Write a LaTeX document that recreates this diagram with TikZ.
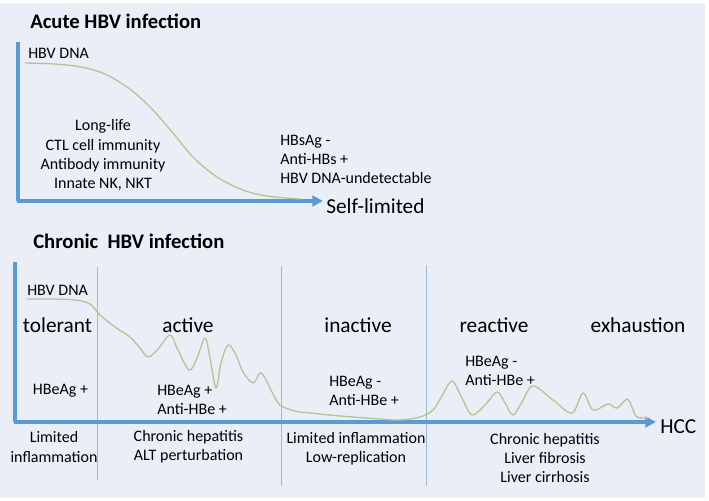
\documentclass[tikz,border=0pt]{standalone}
\usepackage{fontspec}
\setmainfont{Carlito}
\usetikzlibrary{arrows.meta}
\definecolor{bgc}{RGB}{234,239,247}
\definecolor{axisblue}{RGB}{91,155,213}
\definecolor{thinblue}{RGB}{156,186,224}
\definecolor{curvec}{RGB}{178,198,150}
\tikzset{
  axisline/.style={draw=axisblue, line width=2.3pt, -{Triangle[length=8pt,width=8pt]}},
  axisplain/.style={draw=axisblue, line width=2.3pt},
  divider/.style={draw=thinblue, line width=0.6pt},
  dna/.style={draw=curvec, line width=1pt, line join=round},
  ttl/.style={font=\fontsize{15.5}{18}\selectfont\bfseries, inner sep=0pt},
  big/.style={font=\fontsize{16}{19}\selectfont, inner sep=0pt},
  small/.style={font=\fontsize{12}{14.3}\selectfont, inner sep=0pt, align=center},
  smallL/.style={font=\fontsize{12}{14.3}\selectfont, inner sep=0pt, align=left, anchor=west},
}
\begin{document}
\begin{tikzpicture}[x=0.75pt,y=-0.75pt]
\useasboundingbox (0,0) rectangle (709,500);
\fill[white] (0,0) rectangle (709,500);
\fill[bgc] (0,3) rectangle (705,498);

% ---------- Acute ----------
\node[ttl, anchor=west] (t1) at (30,21) {Acute HBV infection};
\coordinate (a0) at (18,42);
\coordinate (ao) at (18,201);
\coordinate (ax) at (323,201);
\draw[axisplain] (a0) -- (ao);
\draw[axisline] ([xshift=-1.1pt]ao) -- (ax);
\node[big, anchor=west] (sl) at (326,206) {Self-limited};
\node[smallL] (hd1) at (28,53) {HBV DNA};
\draw[dna] plot[smooth, tension=0.6] coordinates {(25,63) (67,65) (100,72) (127,87) (150,107) (173,133) (193,157) (217,177) (243,190) (267,196) (300,199)};
\node[small] (imm) at (103,155) {Long-life\\CTL cell immunity\\Antibody immunity\\Innate NK, NKT};
\node[smallL] (hbs) at (280,159) {HBsAg -\\Anti-HBs +\\HBV DNA-undetectable};

% ---------- Chronic ----------
\node[ttl, anchor=west] (t2) at (33,241) {Chronic~ HBV infection};
\coordinate (c0) at (15,262);
\coordinate (co) at (15,422);
\coordinate (cx) at (656,422);
\draw[divider] (97,267) -- (97,480);
\draw[divider] (281,266) -- (281,486);
\draw[divider] (426,265) -- (426,486);
\draw[axisplain] (c0) -- (co);
\draw[axisline] ([xshift=-1.1pt]co) -- (cx);
\node[big, anchor=west] (hcc) at (660,427) {HCC};

\node[smallL] (hd2) at (27,290) {HBV DNA};
\draw[dna] plot[smooth, tension=0.55] coordinates {
 (27,299) (50,299) (75,300) (90,304) (100,315) (115,327) (130,337) (140,348) (148,357) (158,349)
 (170,335) (177,348) (189,370) (197,358) (205,338) (210,358) (216,388) (221,363) (228,345) (236,355)
 (243,372) (253,383) (260,373) (265,378) (272,392) (280,405) (295,411) (310,413) (340,416) (380,419) (400,420)
 (420,417) (433,410) (442,396) (452,381) (462,398) (472,415) (485,405) (497,392) (505,403) (513,415) (522,402)
 (533,386) (553,400) (572,413) (583,393) (593,410) (608,404) (617,408) (627,399) (632,407) (637,417) (650,418)};

\node[big] (tol) at (57.5,325) {tolerant};
\node[big] (act) at (188,325) {active};
\node[big] (inact) at (358,325) {inactive};
\node[big] (react) at (494,325) {reactive};
\node[big] (exh) at (638,325) {exhaustion};

\node[small] (e1) at (60.5,391) {HBeAg +};
\node[smallL] (e2) at (157,400) {HBeAg +\\Anti-HBe +};
\node[smallL] (e3) at (329,391) {HBeAg -\\Anti-HBe +};
\node[smallL] (e4) at (465,371) {HBeAg -\\Anti-HBe +};

\node[small] (l1) at (54,447) {Limited\\inflammation};
\node[small] (l2) at (188.5,447) {Chronic hepatitis\\ALT perturbation};
\node[small] (l3) at (356,449) {Limited inflammation\\Low-replication};
\node[small] (l4) at (545,458) {Chronic hepatitis\\Liver fibrosis\\Liver cirrhosis};
\end{tikzpicture}
\end{document}
